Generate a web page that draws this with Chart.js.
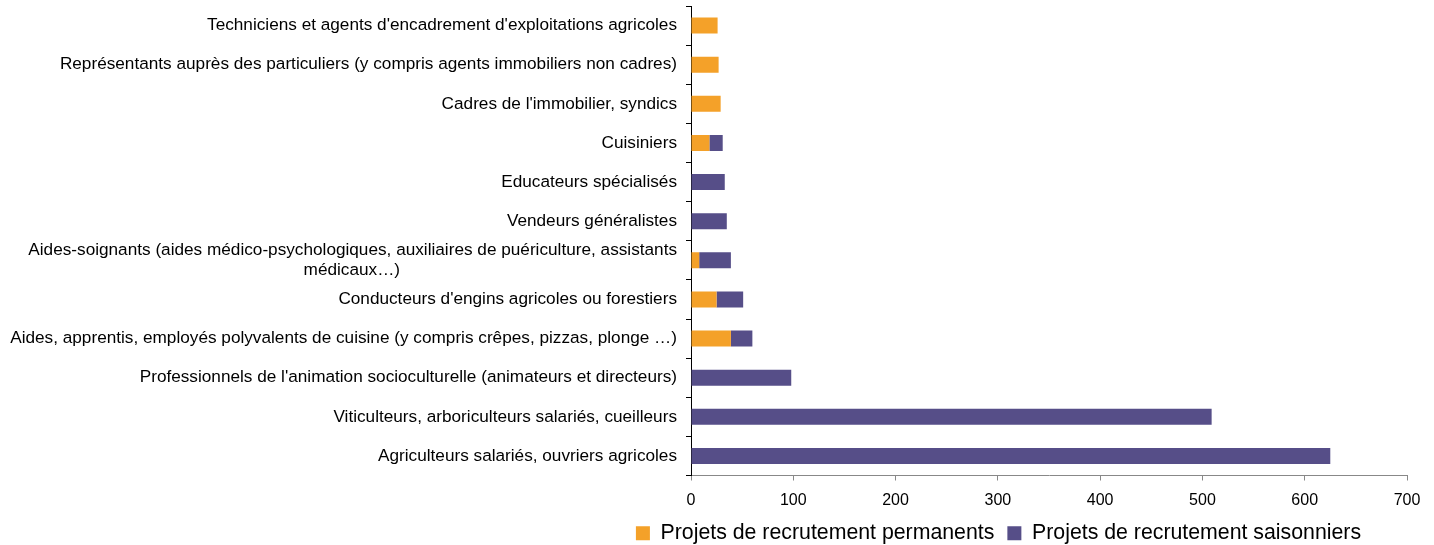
<!DOCTYPE html>
<html lang="fr">
<head>
<meta charset="utf-8">
<script src="https://cdn.jsdelivr.net/npm/chart.js@4.4.1/dist/chart.umd.min.js"></script>
<style>
    html, body { margin: 0; padding: 0; background: #fff; }
    #wrap { width: 1434px; height: 545px; }
</style>
</head>
<body>
<div id="wrap"><canvas id="graphique"></canvas></div>
<script>
// Métiers (de haut en bas)
const metiers = [
    "Techniciens et agents d'encadrement d'exploitations agricoles",
    "Représentants auprès des particuliers (y compris agents immobiliers non cadres)",
    "Cadres de l'immobilier, syndics",
    "Cuisiniers",
    "Educateurs spécialisés",
    "Vendeurs généralistes",
    ["Aides-soignants (aides médico-psychologiques, auxiliaires de puériculture, assistants", "médicaux…)"],
    "Conducteurs d'engins agricoles ou forestiers",
    "Aides, apprentis, employés polyvalents de cuisine (y compris crêpes, pizzas, plonge …)",
    "Professionnels de l'animation socioculturelle (animateurs et directeurs)",
    "Viticulteurs, arboriculteurs salariés, cueilleurs",
    "Agriculteurs salariés, ouvriers agricoles"
];

const permanents = [26, 27, 29, 18, 0, 0, 8, 25, 39, 0, 0, 0];
const saisonniers = [0, 0, 0, 13, 33, 35, 31, 26, 21, 98, 509, 625];

const xTicks = [0, 100, 200, 300, 400, 500, 600, 700];

const police = "'Liberation Sans', Arial, sans-serif";
const tailleLibelles = 17.2;

// Centre la 2e ligne d'un libellé sur deux lignes (ajout d'espaces à droite)
function centrerLignes(label) {
    if (!Array.isArray(label)) return label;
    const ctx = document.createElement("canvas").getContext("2d");
    ctx.font = `${tailleLibelles}px ${police}`;
    const w0 = ctx.measureText(label[0]).width;
    const esp = ctx.measureText(" ").width;
    return label.map((ligne, i) => {
        if (i === 0) return ligne;
        const w = ctx.measureText(ligne).width;
        const n = Math.max(0, Math.round((w0 - w) / 2 / esp));
        return ligne + " ".repeat(n);
    });
}

// Décale la légende (centrée sous la zone du graphique)
const decalageLegende = {
    id: "decalageLegende",
    afterLayout(chart) {
        const lg = chart.legend;
        if (!lg) return;
        const dx = 295;
        const dy = -10;
        lg.left += dx;
        lg.right += dx;
        lg.top += dy;
        lg.bottom += dy;
    }
};

Chart.defaults.font.family = police;
Chart.defaults.color = "#000";

new Chart(document.getElementById("graphique").getContext("2d"), {
    type: "bar",
    data: {
        labels: metiers.map(centrerLignes),
        datasets: [
            {
                label: "Projets de recrutement permanents",
                data: permanents,
                backgroundColor: "#F4A129",
                barPercentage: 0.41,
                categoryPercentage: 1
            },
            {
                label: "Projets de recrutement saisonniers",
                data: saisonniers,
                backgroundColor: "#564E88",
                barPercentage: 0.41,
                categoryPercentage: 1
            }
        ]
    },
    options: {
        indexAxis: "y",
        responsive: true,
        maintainAspectRatio: false,
        animation: false,
        layout: { padding: { top: 6, right: 27, left: 0, bottom: -19 } },
        plugins: {
            tooltip: { enabled: false },
            legend: {
                position: "bottom",
                labels: {
                    boxWidth: 14,
                    boxHeight: 14,
                    padding: 13,
                    font: { size: 21.3 },
                    color: "#000"
                }
            }
        },
        scales: {
            x: {
                stacked: true,
                min: 0,
                max: 700,
                afterBuildTicks: (axis) => {
                    axis.ticks = xTicks.map((v) => ({ value: v }));
                },
                grid: {
                    drawOnChartArea: false,
                    tickLength: 5,
                    color: "#888"
                },
                border: { color: "#888" },
                ticks: {
                    font: { size: 16 },
                    padding: 10,
                    maxRotation: 0
                }
            },
            y: {
                stacked: true,
                afterFit: (scale) => {
                    scale.width = 691;
                    scale.paddingTop = 0;
                    scale.paddingBottom = 0;
                },
                grid: {
                    drawOnChartArea: false,
                    tickLength: 5,
                    color: "#000"
                },
                border: { color: "#000" },
                ticks: {
                    font: { size: tailleLibelles },
                    padding: 9,
                    autoSkip: false
                }
            }
        }
    },
    plugins: [decalageLegende]
});
</script>
</body>
</html>
